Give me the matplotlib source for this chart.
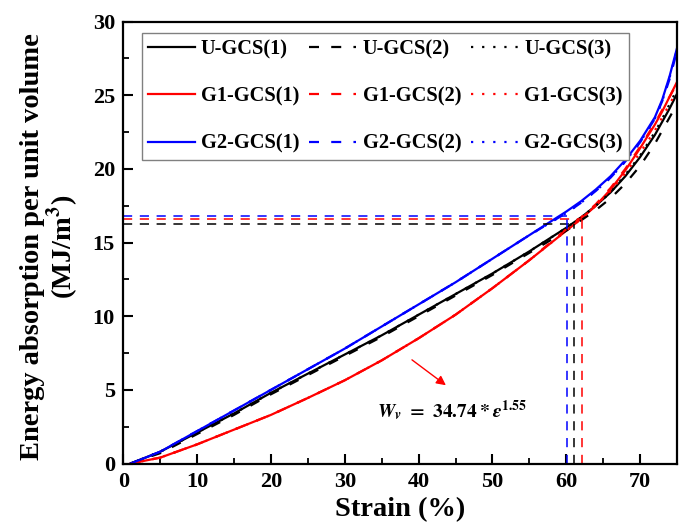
import matplotlib.pyplot as plt
import numpy as np

plt.rcParams['font.family'] = 'Liberation Serif'
plt.rcParams['font.weight'] = 'bold'
plt.rcParams['mathtext.fontset'] = 'stix'

# strain (%) sample positions
strain = [1, 2, 5, 10, 15, 20, 25, 30, 35, 40, 45, 50, 55, 60, 62, 64, 66, 68, 70, 72, 73, 74, 75]

u1 = [0, 0.2, 0.8, 2.1, 3.4, 4.8, 6.1, 7.4, 8.7, 10.1, 11.5, 12.9, 14.4, 16.0, 16.7, 17.5, 18.4, 19.5, 20.8, 22.3, 23.2, 24.1, 25.1]
u2 = [0, 0.2, 0.7, 2.0, 3.3, 4.7, 6.0, 7.3, 8.6, 10.0, 11.4, 12.8, 14.3, 15.8, 16.5, 17.2, 18.0, 19.0, 20.2, 21.7, 22.6, 23.5, 24.4]
u3 = [0, 0.2, 0.8, 2.1, 3.4, 4.8, 6.1, 7.4, 8.7, 10.1, 11.5, 12.9, 14.4, 16.0, 16.7, 17.5, 18.4, 19.6, 20.9, 22.5, 23.4, 24.4, 25.4]

g1_1 = [0, 0.1, 0.4, 1.3, 2.3, 3.3, 4.45, 5.65, 7.0, 8.5, 10.1, 11.9, 13.8, 15.8, 16.6, 17.5, 18.6, 19.9, 21.4, 23.0, 23.9, 24.9, 25.9]
g1_2 = [0, 0.1, 0.4, 1.3, 2.3, 3.3, 4.45, 5.65, 7.0, 8.5, 10.1, 11.9, 13.8, 15.9, 16.7, 17.6, 18.7, 20.0, 21.5, 23.1, 24.0, 24.9, 25.8]
g1_3 = [0, 0.1, 0.4, 1.3, 2.3, 3.3, 4.45, 5.65, 7.0, 8.5, 10.1, 11.9, 13.8, 15.8, 16.6, 17.5, 18.5, 19.7, 21.1, 22.6, 23.5, 24.4, 25.3]

g2_1 = [0, 0.2, 0.8, 2.2, 3.6, 5.0, 6.4, 7.8, 9.3, 10.8, 12.3, 13.9, 15.5, 17.1, 17.8, 18.6, 19.5, 20.6, 21.9, 23.5, 24.7, 26.3, 28.2]
g2_2 = [0, 0.2, 0.8, 2.2, 3.6, 5.0, 6.4, 7.8, 9.3, 10.8, 12.3, 13.9, 15.5, 17.0, 17.7, 18.5, 19.4, 20.5, 21.8, 23.4, 24.6, 26.1, 28.0]
g2_3 = [0, 0.2, 0.8, 2.2, 3.6, 5.0, 6.4, 7.8, 9.3, 10.8, 12.3, 13.9, 15.5, 17.0, 17.7, 18.5, 19.4, 20.5, 21.8, 23.4, 24.6, 26.2, 28.1]

# plateau-onset markers (strain %, energy)
onset_x = [61.1, 62.1, 60.05]
onset_y = [16.28, 16.58, 16.82]
onset_c = ['black', 'red', 'blue']

fig = plt.figure(figsize=(6.86, 5.25), dpi=100)
ax = fig.add_axes([0.1797, 0.1171, 0.8072, 0.8419])

dash = (0, (4.5, 5.5))
dot = (0, (1, 4))
series = [
    (u1, 'black', '-', 'U-GCS(1)'), (g1_1, 'red', '-', 'G1-GCS(1)'), (g2_1, 'blue', '-', 'G2-GCS(1)'),
    (u2, 'black', dash, 'U-GCS(2)'), (g1_2, 'red', dash, 'G1-GCS(2)'), (g2_2, 'blue', dash, 'G2-GCS(2)'),
    (u3, 'black', dot, 'U-GCS(3)'), (g1_3, 'red', dot, 'G1-GCS(3)'), (g2_3, 'blue', dot, 'G2-GCS(3)'),
]
for y, c, ls, lab in series:
    ax.plot(strain, y, color=c, linestyle=ls, lw=1.6, label=lab)

for xc, yc, c in zip(onset_x, onset_y, onset_c):
    ax.plot([0, xc], [yc, yc], color=c, ls=(0, (6, 5)), lw=1.1)
    ax.plot([xc, xc], [0, yc], color=c, ls=(0, (6, 5)), lw=1.1)

ax.annotate('', xy=(44.0, 5.2), xytext=(38.8, 7.15),
            arrowprops=dict(arrowstyle='-|>', color='red', lw=1.0, mutation_scale=14))
ax.text(34.4, 3.58, r'$\mathbfit{W_v}\mathbf{\ =\ 34.74*}\mathbfit{\varepsilon}^{\mathbf{1.55}}$',
        fontsize=14, va='center', ha='left')

ax.set_xlim(0, 75)
ax.set_ylim(0, 30)
ax.set_xticks([0, 10, 20, 30, 40, 50, 60, 70])
ax.set_xticks(np.arange(5, 75, 10), minor=True)
ax.set_yticks([0, 5, 10, 15, 20, 25, 30])
ax.set_yticks(np.arange(2.5, 30, 5), minor=True)
ax.tick_params(which='major', direction='in', length=7, width=1.5, labelsize=16, pad=6)
ax.tick_params(which='minor', direction='in', length=4, width=1.3)
for s in ax.spines.values():
    s.set_linewidth(1.6)

ax.set_xlabel('Strain (%)', fontsize=20.5, fontweight='bold', labelpad=4)
ax.set_ylabel('Energy absorption per unit volume\n(MJ/m$^\\mathbf{3}$)', fontsize=20.5,
              fontweight='bold', linespacing=1.0)
ax.yaxis.set_label_coords(-0.078, 0.49)

leg = ax.legend(ncol=3, loc='upper left', bbox_to_anchor=(0.033, 0.974), borderaxespad=0,
                fontsize=14.7, frameon=True, fancybox=False, edgecolor='gray', framealpha=1,
                handlelength=2.3, columnspacing=0.5, labelspacing=1.34, handletextpad=0.3,
                borderpad=0.3)
leg.get_frame().set_linewidth(1.0)

fig.savefig('out.png', dpi=100)
